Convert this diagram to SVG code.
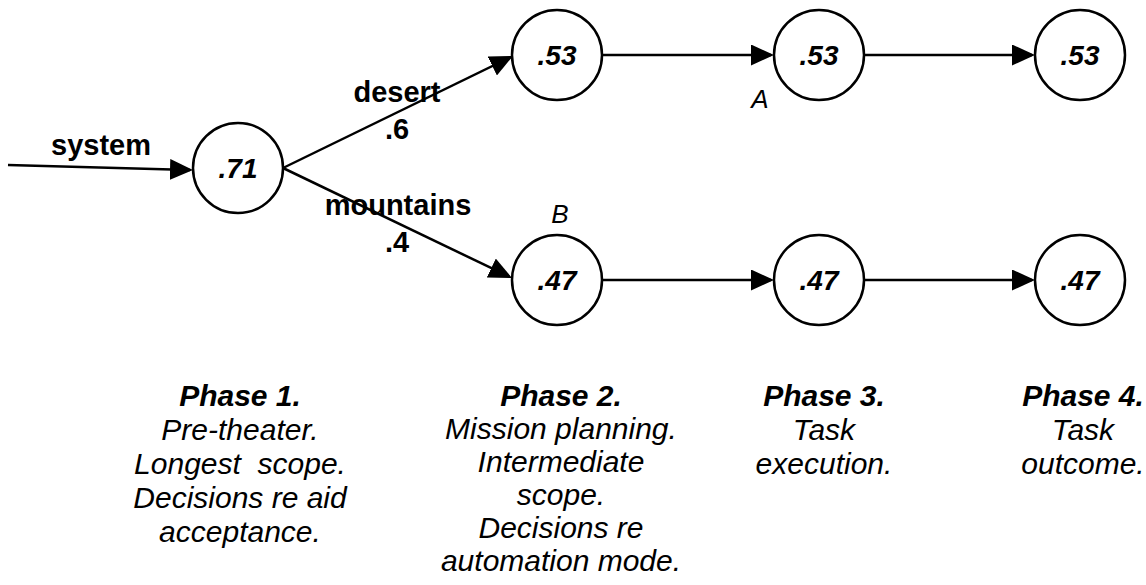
<svg xmlns="http://www.w3.org/2000/svg" width="1146" height="585" viewBox="0 0 1146 585">
  <style>
    .node circle { fill: #fff; stroke: #000; stroke-width: 2.5; }
    .node text { font-family: "Liberation Sans", Arial, sans-serif; font-size: 28px; font-weight: bold; font-style: italic; text-anchor: middle; }
    .edge { stroke: #000; stroke-width: 2.5; fill: none; marker-end: url(#arrow); }
    .lbl { font-family: "Liberation Sans", Arial, sans-serif; font-size: 29px; font-weight: bold; text-anchor: middle; }
    .tag { font-family: "Liberation Sans", Arial, sans-serif; font-size: 26px; font-style: italic; text-anchor: middle; }
    .phase text { font-family: "Liberation Sans", Arial, sans-serif; font-size: 30px; font-style: italic; text-anchor: middle; }
    .phase .h { font-weight: bold; }
  </style>
  <defs>
    <!-- filled triangular head; tip sits 3px past the line end -->
    <marker id="arrow" viewBox="0 0 23 21" refX="20" refY="10.5" markerWidth="23" markerHeight="21" markerUnits="userSpaceOnUse" orient="auto">
      <path d="M0,0 L23,10.5 L0,21 z" fill="#000"/>
    </marker>
  </defs>
  <rect width="1146" height="585" fill="#fff"/>

  <g id="connectors">
    <path class="edge" d="M8,165 L190,170"/>
    <path class="edge" d="M283,168 L510.3,57.3"/>
    <path class="edge" d="M283,168 L509.3,276.7"/>
    <path class="edge" d="M602,55 L771,55"/>
    <path class="edge" d="M864,55 L1032,55"/>
    <path class="edge" d="M602,280 L771,280"/>
    <path class="edge" d="M864,280 L1032,280"/>
  </g>

  <g id="edge-labels">
    <text class="lbl" x="101" y="155">system</text>
    <text class="lbl" x="397" y="102">desert</text>
    <text class="lbl" x="397" y="139">.6</text>
    <text class="lbl" x="398" y="215">mountains</text>
    <text class="lbl" x="397" y="252">.4</text>
    <text class="tag" x="760" y="108">A</text>
    <text class="tag" x="560" y="223">B</text>
  </g>

  <g id="n71" class="node"><circle cx="238" cy="168" r="45"/><text x="238" y="178">.71</text></g>
  <g id="n53a" class="node"><circle cx="557" cy="55" r="45"/><text x="557" y="65">.53</text></g>
  <g id="n53b" class="node"><circle cx="819" cy="55" r="45"/><text x="819" y="65">.53</text></g>
  <g id="n53c" class="node"><circle cx="1080" cy="55" r="45"/><text x="1080" y="65">.53</text></g>
  <g id="n47a" class="node"><circle cx="557" cy="280" r="45"/><text x="557" y="290">.47</text></g>
  <g id="n47b" class="node"><circle cx="819" cy="280" r="45"/><text x="819" y="290">.47</text></g>
  <g id="n47c" class="node"><circle cx="1080" cy="280" r="45"/><text x="1080" y="290">.47</text></g>

  <g id="phase1" class="phase">
    <text x="240" y="406" class="h">Phase 1.</text>
    <text x="240" y="440">Pre-theater.</text>
    <text x="240" y="474" xml:space="preserve">Longest  scope.</text>
    <text x="240" y="508">Decisions re aid</text>
    <text x="240" y="542">acceptance.</text>
  </g>
  <g id="phase2" class="phase">
    <text x="561" y="406" class="h">Phase 2.</text>
    <text x="561" y="439">Mission planning.</text>
    <text x="561" y="472">Intermediate</text>
    <text x="561" y="505">scope.</text>
    <text x="561" y="538">Decisions re</text>
    <text x="561" y="571">automation mode.</text>
  </g>
  <g id="phase3" class="phase">
    <text x="824" y="406" class="h">Phase 3.</text>
    <text x="824" y="440">Task</text>
    <text x="824" y="474">execution.</text>
  </g>
  <g id="phase4" class="phase">
    <text x="1083" y="406" class="h">Phase 4.</text>
    <text x="1083" y="440">Task</text>
    <text x="1083" y="474">outcome.</text>
  </g>
</svg>
